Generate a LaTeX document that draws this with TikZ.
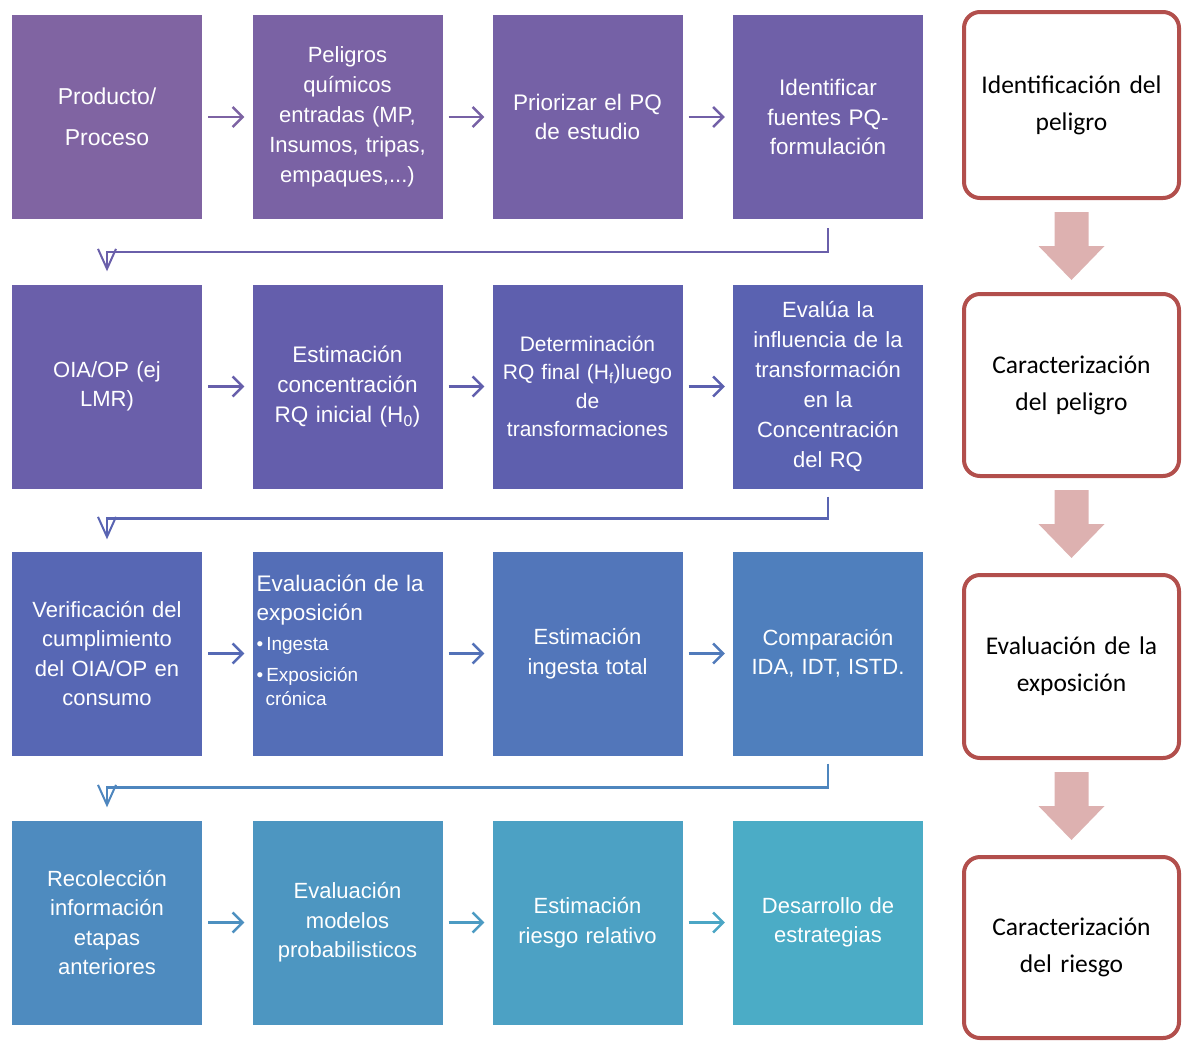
\documentclass[tikz,border=0pt]{standalone}
\usepackage{fontspec}
\setmainfont{Liberation Sans}
\newfontfamily\calfont{Carlito}
\usetikzlibrary{arrows.meta,calc}
\definecolor{c11}{HTML}{8064A2}\definecolor{c12}{HTML}{7A62A4}\definecolor{c13}{HTML}{7561A6}\definecolor{c14}{HTML}{6F60A8}
\definecolor{c21}{HTML}{6A5FAA}\definecolor{c22}{HTML}{645EAC}\definecolor{c23}{HTML}{5E5FAE}\definecolor{c24}{HTML}{5A62B1}
\definecolor{c31}{HTML}{5767B4}\definecolor{c32}{HTML}{546EB7}\definecolor{c33}{HTML}{5276BA}\definecolor{c34}{HTML}{4F7FBD}
\definecolor{c41}{HTML}{4E8BBF}\definecolor{c42}{HTML}{4D96C1}\definecolor{c43}{HTML}{4CA1C4}\definecolor{c44}{HTML}{4BACC6}
\definecolor{redline}{HTML}{B24F4C}
\definecolor{pinkarr}{HTML}{DDB1B0}
\begin{document}
\begin{tikzpicture}[x=1pt,y=-1pt,
  stepbox/.style={rectangle, minimum width=190pt, minimum height=204pt, text width=182pt, align=center, text=white, inner sep=0pt, font=\fontsize{22}{29.5}\selectfont},
  flow/.style={line width=2.5pt, -{Straight Barb[length=10pt,width=20pt,line width=2.5pt]}, shorten <=6pt, shorten >=8pt},
  rowconn/.style={line width=2.5pt, -{Straight Barb[length=20pt,width=18pt,line width=2pt]}, rounded corners=0pt},
  phase/.style={rectangle, rounded corners=16pt, draw=redline, line width=4pt, fill=white, minimum width=215pt, text width=205pt, align=center, font=\calfont\fontsize{25.5}{37}\selectfont},
  blockarr/.style={fill=pinkarr}
]
\useasboundingbox (0,0) rectangle (1183,1042);
% Row 1
\node[stepbox, fill=c11, font=\fontsize{23}{41}\selectfont] (b11) at (107,117) {Producto/\\Proceso};
\node[stepbox, fill=c12, font=\fontsize{22}{30}\selectfont] (b12) at (347.5,117) {Peligros\\químicos\\entradas (MP,\\Insumos, tripas,\\empaques,...)};
\node[stepbox, fill=c13, font=\fontsize{22.5}{29}\selectfont] (b13) at (587.5,117) {Priorizar el PQ\\de estudio};
\node[stepbox, fill=c14, font=\fontsize{22.5}{29.5}\selectfont] (b14) at (828,117) {Identificar\\fuentes PQ-\\formulación};
% Row 2
\node[stepbox, fill=c21] (b21) at (107,386.5) {OIA/OP (ej\\LMR)};
\node[stepbox, fill=c22, font=\fontsize{22.5}{30}\selectfont] (b22) at (347.5,386.5) {Estimación\\concentración\\RQ inicial (H\textsubscript{0})};
\node[stepbox, fill=c23, font=\fontsize{21}{28.5}\selectfont] (b23) at (587.5,386.5) {Determinación\\RQ final (H\textsubscript{f})luego\\de\\transformaciones};
\node[stepbox, fill=c24, font=\fontsize{22}{30}\selectfont] (b24) at (828,386.5) {Evalúa la\\influencia de la\\transformación\\en la\\Concentración\\del RQ};
% Row 3
\node[stepbox, fill=c31] (b31) at (107,653.5) {Verificación del\\cumplimiento\\del OIA/OP en\\consumo};
\node[stepbox, fill=c32, align=left] (b32) at (347.5,653.5) {\begin{minipage}{174pt}\raggedright
\fontsize{22.5}{29}\selectfont Evaluación de la\\exposición\par
\vspace{6pt}\fontsize{19}{24}\selectfont
•\,Ingesta\par
\vspace{7pt}•\,Exposición\\\hspace*{9pt}crónica\par
\vspace*{26pt}\end{minipage}};
\node[stepbox, fill=c33] (b33) at (587.5,653.5) {Estimación\\ingesta total};
\node[stepbox, fill=c34] (b34) at (828,653.5) {Comparación\\IDA, IDT, ISTD.};
% Row 4
\node[stepbox, fill=c41] (b41) at (107,922.5) {Recolección\\información\\etapas\\anteriores};
\node[stepbox, fill=c42] (b42) at (347.5,922.5) {Evaluación\\modelos\\probabilisticos};
\node[stepbox, fill=c43] (b43) at (587.5,922.5) {Estimación\\riesgo relativo};
\node[stepbox, fill=c44] (b44) at (828,922.5) {Desarrollo de\\estrategias};
% horizontal arrows
\draw[flow, draw=c11!50!c12] (b11) -- (b12);
\draw[flow, draw=c12!50!c13] (b12) -- (b13);
\draw[flow, draw=c13!50!c14] (b13) -- (b14);
\draw[flow, draw=c21!50!c22] (b21) -- (b22);
\draw[flow, draw=c22!50!c23] (b22) -- (b23);
\draw[flow, draw=c23!50!c24] (b23) -- (b24);
\draw[flow, draw=c31!50!c32] (b31) -- (b32);
\draw[flow, draw=c32!50!c33] (b32) -- (b33);
\draw[flow, draw=c33!50!c34] (b33) -- (b34);
\draw[flow, draw=c41!50!c42] (b41) -- (b42);
\draw[flow, draw=c42!50!c43] (b42) -- (b43);
\draw[flow, draw=c43!50!c44] (b43) -- (b44);
% row connectors
\draw[rowconn, draw=c21, shorten <=9pt, shorten >=13pt] (b14.south) -- ++(0,33) -| (b21.north);
\draw[rowconn, draw=c24!60!c31, shorten <=8pt, shorten >=12pt] (b24.south) -- ++(0,30) -| (b31.north);
\draw[rowconn, draw=c34!40!c41, shorten <=8pt, shorten >=13pt] (b34.south) -- ++(0,32) -| (b41.north);
% phases
\node[phase, minimum height=186pt] (R1) at (1071.5,105) {Identificación del\\peligro};
\node[phase, minimum height=182pt] (R2) at (1071.5,385) {Caracterización\\del peligro};
\node[phase, minimum height=183pt] (R3) at (1071.5,666.5) {Evaluación de la\\exposición};
\node[phase, minimum height=181pt] (R4) at (1071.5,947.5) {Caracterización\\del riesgo};
% block arrows
\fill[blockarr] ($(R1.south)+(-17,12)$) -- ++(34,0) -- ++(0,34) -- ++(16,0) -- ++(-33,34) -- ++(-33,-34) -- ++(16,0) -- cycle;
\fill[blockarr] ($(R2.south)+(-17,12)$) -- ++(34,0) -- ++(0,34) -- ++(16,0) -- ++(-33,34) -- ++(-33,-34) -- ++(16,0) -- cycle;
\fill[blockarr] ($(R3.south)+(-17,12)$) -- ++(34,0) -- ++(0,34) -- ++(16,0) -- ++(-33,34) -- ++(-33,-34) -- ++(16,0) -- cycle;
\end{tikzpicture}
\end{document}
